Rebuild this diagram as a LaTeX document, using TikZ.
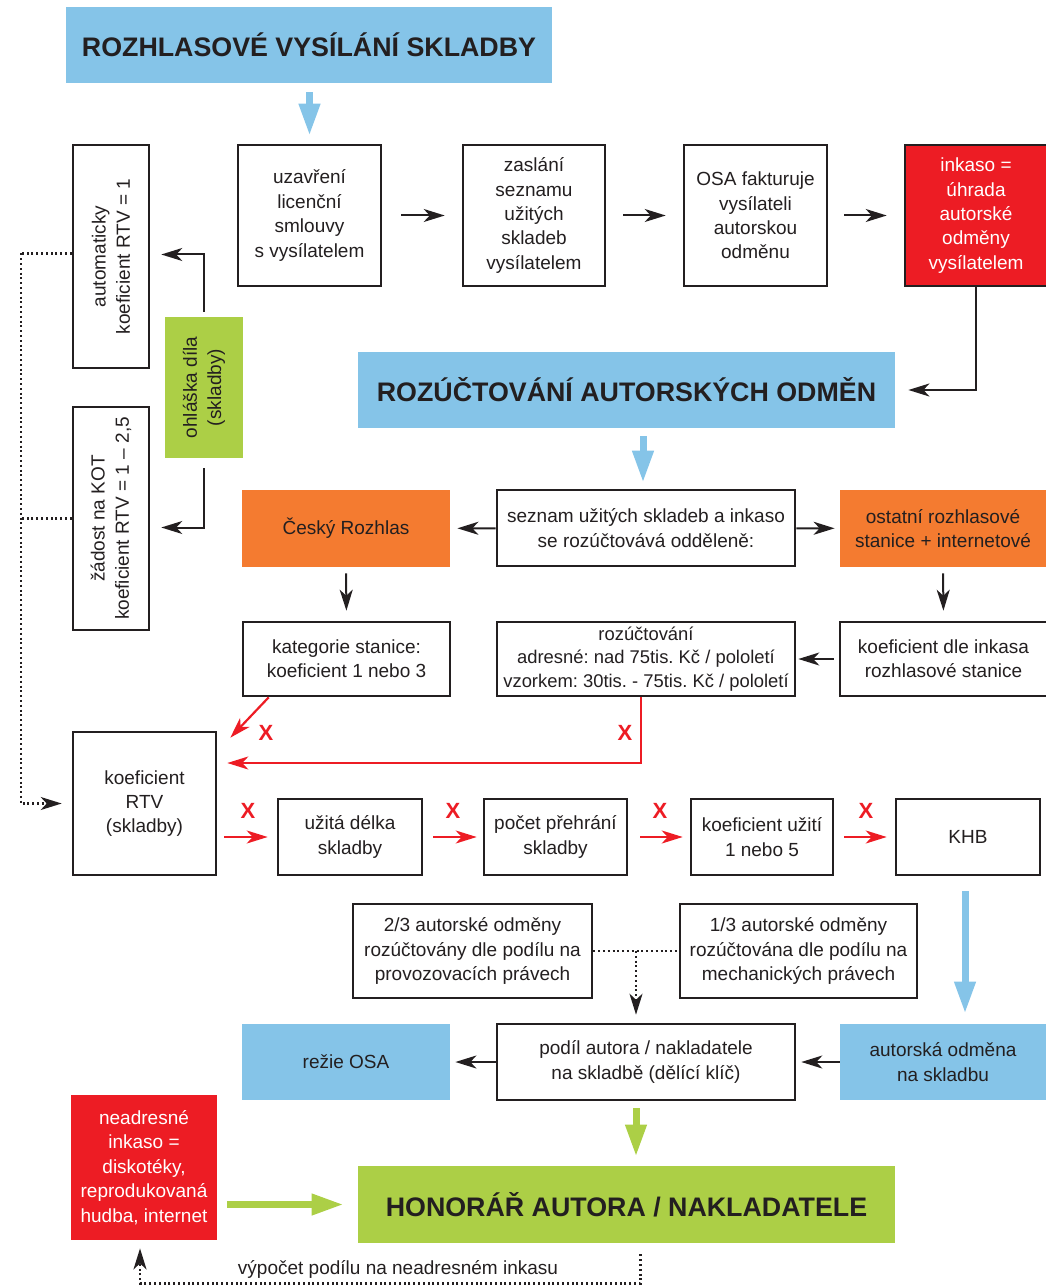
\documentclass[tikz,border=0pt]{standalone}
\usepackage{fontspec}
\setmainfont{Liberation Sans}
\usetikzlibrary{arrows.meta}
\definecolor{cblue}{RGB}{133,196,232}
\definecolor{corange}{RGB}{244,123,48}
\definecolor{cred}{RGB}{237,28,36}
\definecolor{cgreen}{RGB}{172,207,70}
\definecolor{ink}{RGB}{35,31,32}
\frenchspacing
\begin{document}
\begin{tikzpicture}[x=0.5pt,y=-0.5pt,
  every node/.style={font=\fontsize{9.5}{12.2}\selectfont, text=ink},
  corners/.style args={#1,#2,#3,#4}{at={({(#1+#3)/2},{(#2+#4)/2})},
     minimum width={(#3-#1)*0.5pt}, minimum height={(#4-#2)*0.5pt}},
  box/.style={draw=ink, line width=1.3pt, fill=white, inner sep=0pt, align=center},
  colbox/.style={fill=#1, inner sep=0pt, align=center},
  hd/.style={font=\fontsize{13.4}{15}\selectfont\bfseries},
  rottext/.style={rotate=90, align=center},
  arr/.style={draw=ink, line width=1pt, -{Stealth[length=10.5pt,width=6.5pt,inset=3pt]}},
  rarr/.style={draw=cred, line width=1.1pt, -{Stealth[length=10.5pt,width=6.5pt,inset=3pt]}},
  dotline/.style={draw=ink, line width=1.1pt, dash pattern=on 1pt off 1.4pt},
  dotarr/.style={dotline, -{Stealth[length=10.5pt,width=6.5pt,inset=3pt]}},
  blk/.style={line width=3.5pt, -{Triangle[length=16pt,width=10pt]}},
  xl/.style={text=cred, font=\fontsize{11}{13}\selectfont\bfseries},
]
\useasboundingbox (0,0) rectangle (1045,1288);

% headers
\node[colbox=cblue, hd, corners={66,7,552,83}] (t1) {ROZHLASOVÉ VYSÍLÁNÍ SKLADBY};
\node[colbox=cblue, hd, corners={358,352,895,428}] (h2) {ROZÚČTOVÁNÍ AUTORSKÝCH ODMĚN};
\node[colbox=cgreen, hd, corners={358,1166,895,1243}] (h3) {HONORÁŘ AUTORA / NAKLADATELE};

% row 1
\node[box, corners={238,145,381,286}] (a1) {uzavření\\licenční\\smlouvy\\s vysílatelem};
\node[box, corners={463,145,605,286}] (a2) {zaslání\\seznamu\\užitých\\skladeb\\vysílatelem};
\node[box, corners={684,145,827,286}] (a3) {OSA fakturuje\\vysílateli\\autorskou\\odměnu};
\node[box, fill=cred, text=white, corners={905,145,1047,286}] (a4) {inkaso =\\úhrada\\autorské\\odměny\\vysílatelem};

% left column
\node[box, corners={73,145,149,368}] (l1) {};
\node[rottext] (l1t) at (l1) {automaticky\\koeficient RTV = 1};
\node[box, corners={73,407,149,630}] (l2) {};
\node[rottext] (l2t) at (l2) {žádost na KOT\\koeficient RTV = 1 – 2,5};
\node[colbox=cgreen, corners={165,317,243,458}] (g1) {};
\node[rottext] (g1t) at (g1) {ohláška díla\\(skladby)};

% second block
\node[box, corners={497,490,795,566}] (s1) {seznam užitých skladeb a inkaso\\se rozúčtovává odděleně:};
\node[colbox=corange, corners={242,490,450,567}] (o1) {Český Rozhlas};
\node[colbox=corange, corners={840,490,1046,567}] (o2) {ostatní rozhlasové\\stanice + internetové};
\node[box, corners={243,622,450,696}] (k1) {kategorie stanice:\\koeficient 1 nebo 3};
\node[box, corners={497,622,795,696}, font=\fontsize{9.2}{11.9}\selectfont] (k2) {rozúčtování\\adresné: nad 75tis. Kč / pololetí\\vzorkem: 30tis. - 75tis. Kč / pololetí};
\node[box, corners={840,622,1047,696}] (k3) {koeficient dle inkasa\\rozhlasové stanice};

% coefficient row
\node[box, corners={73,732,216,875}] (r0) {koeficient\\RTV\\(skladby)};
\node[box, corners={278,799,422,875}] (r1) {užitá délka\\skladby};
\node[box, corners={484,799,627,875}] (r2) {počet přehrání\\skladby};
\node[box, corners={691,799,833,875}] (r3) {koeficient užití\\1 nebo 5};
\node[box, corners={896,799,1040,875}] (r4) {KHB};

% shares
\node[box, corners={353,904,592,998}] (m1) {2/3 autorské odměny\\rozúčtovány dle podílu na\\provozovacích právech};
\node[box, corners={680,904,917,998}] (m2) {1/3 autorské odměny\\rozúčtována dle podílu na\\mechanických právech};
\node[box, corners={497,1024,795,1100}] (p1) {podíl autora / nakladatele\\na skladbě (dělící klíč)};
\node[colbox=cblue, corners={242,1024,450,1100}] (b1) {režie OSA};
\node[colbox=cblue, corners={840,1024,1046,1100}] (b3) {autorská odměna\\na skladbu};
\node[colbox=cred, text=white, corners={71,1095,217,1240}] (nr) {neadresné\\inkaso =\\diskotéky,\\reprodukovaná\\hudba, internet};

% connectors top
\draw[blk, cblue, shorten <=4.5pt, shorten >=4pt] (t1.south -| a1.north) -- (a1.north);
\draw[arr, shorten <=9.5pt, shorten >=8.5pt] (a1) -- (a2);
\draw[arr, shorten <=8.5pt, shorten >=8.5pt] (a2) -- (a3);
\draw[arr, shorten <=8pt, shorten >=8.5pt] (a3) -- (a4);
\draw[arr, shorten >=6.5pt] (a4.south) |- (h2.east);

% left
\draw[arr, shorten <=2.5pt, shorten >=5.5pt] (g1.north) |- ([yshift=1pt]l1.east);
\draw[arr, shorten <=5pt, shorten >=5.5pt] (g1.south) |- ([yshift=-4.5pt]l2.east);
\draw[dotline] ([yshift=1.5pt]l1.west) -- ++(-51,0) coordinate (dtop);
\draw[dotline] (l2.west) -- ++(-51,0);
\draw[dotarr, shorten >=5pt] (dtop) |- (r0.west);

% second block
\draw[blk, cblue, shorten <=4pt, shorten >=3pt] ([xshift=-1.5pt]s1.north |- h2.south) -- ([xshift=-1.5pt]s1.north);
\draw[arr, shorten >=3.5pt] (s1) -- (o1);
\draw[arr, shorten >=2.5pt] (s1) -- (o2);
\draw[arr, shorten <=3pt, shorten >=5pt] (o1.south) -- (k1.north);
\draw[arr, shorten <=3pt, shorten >=5pt] (o2.south) -- (k3.north);
\draw[arr, shorten <=2.5pt, shorten >=1pt] (k3) -- (k2);

% red
\draw[rarr] ([xshift=13.5pt]k1.south west) -- ([xshift=6.5pt,yshift=-3.5pt]r0.north east);
\draw[rarr, shorten >=5pt] ([xshift=-2.5pt]k2.south) |- ([yshift=20.25pt]r0.east);
\node[xl] (x1) at (266,733) {X};
\node[xl] (x2) at (625,733) {X};
\draw[rarr, shorten <=3.5pt, shorten >=4.5pt] (r0.east |- r1.west) -- (r1.west);
\draw[rarr, shorten <=5pt, shorten >=3pt] (r1) -- (r2);
\draw[rarr, shorten <=6pt, shorten >=3.5pt] (r2) -- (r3);
\draw[rarr, shorten <=5pt, shorten >=4pt] (r3) -- (r4);
\node[xl] (x3) at (248,811) {X};
\node[xl] (x4) at (453,811) {X};
\node[xl] (x5) at (660,811) {X};
\node[xl] (x6) at (866,811) {X};

% lower
\draw[blk, cblue, shorten <=7.5pt, shorten >=5pt] ([xshift=-1.5pt]r4.south) -- ([xshift=-1.5pt]r4.south |- b3.north);
\draw[dotline] (m1) -- (m2);
\path (m1.east) -- (m2.west) coordinate[pos=0.5] (mm);
\draw[dotarr, shorten >=4pt] (mm) -- (mm |- p1.north);
\draw[arr, shorten >=2.5pt] (p1) -- (b1);
\draw[arr, shorten >=2.5pt] (b3) -- (p1);
\draw[blk, cgreen, shorten <=3.5pt, shorten >=4.5pt] ([xshift=-5pt]p1.south) -- ([xshift=-5pt]p1.south |- h3.north);
\draw[blk, cgreen, shorten <=5pt, shorten >=7pt] (nr.east |- h3.west) -- (h3.west);
\draw[dotarr, shorten <=5.5pt, shorten >=4pt] ([xshift=7pt]h3.south) -- ++(0,40) -| ([xshift=-2pt]nr.south);
\node (lbl) at (398,1269) {výpočet podílu na neadresném inkasu};
\end{tikzpicture}
\end{document}
